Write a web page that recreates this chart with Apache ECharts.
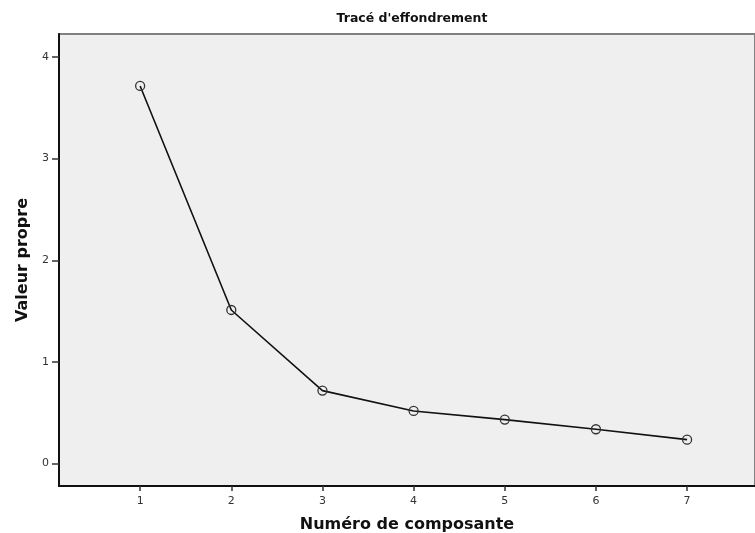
<!DOCTYPE html>
<html>
<head>
<meta charset="utf-8">
<script src="https://cdn.jsdelivr.net/npm/echarts@6/dist/echarts.min.js"></script>
<style>
  html, body { margin: 0; padding: 0; background: #ffffff; }
  #chart { width: 755px; height: 533px; }
</style>
</head>
<body>
<div id="chart"></div>
<script>
// Scree plot: eigenvalue of each component
const components = [1, 2, 3, 4, 5, 6, 7];
const eigenvalues = [3.714, 1.511, 0.718, 0.518, 0.433, 0.338, 0.236];
const yTicks = [0, 1, 2, 3, 4];

const FONT = '"DejaVu Sans", Verdana, sans-serif';

const chart = echarts.init(document.getElementById('chart'), null, { renderer: 'canvas' });

chart.setOption({
  animation: false,
  backgroundColor: '#ffffff',
  title: {
    text: "Tracé d'effondrement",
    left: 407,
    textAlign: 'center',
    top: 7,
    textStyle: { fontFamily: FONT, fontWeight: 'bold', fontSize: 12.5, color: '#111111' }
  },
  grid: {
    left: 59, top: 34, right: 0, bottom: 47,
    outerBoundsMode: 'none',
    containLabel: false,
    show: true,
    backgroundColor: '#efefef',
    borderColor: '#808080',
    borderWidth: 2
  },
  xAxis: {
    type: 'value',
    min: 0.11,
    max: 7.745,
    interval: 1,
    name: 'Numéro de composante',
    nameLocation: 'middle',
    nameGap: 31,
    nameTextStyle: { fontFamily: FONT, fontWeight: 'bold', fontSize: 16, color: '#111111' },
    axisLine: { show: true, onZero: false, lineStyle: { color: '#111111', width: 2 } },
    axisTick: { show: true, length: 5, lineStyle: { color: '#333333', width: 1.5 }, customValues: components },
    axisLabel: {
      fontFamily: FONT, fontSize: 11, color: '#333333', margin: 10,
      customValues: components,
      formatter: v => String(v)
    },
    splitLine: { show: false }
  },
  yAxis: {
    type: 'value',
    min: -0.22,
    max: 4.225,
    name: 'Valeur propre',
    nameLocation: 'middle',
    nameGap: 28,
    nameRotate: 90,
    nameTextStyle: { fontFamily: FONT, fontWeight: 'bold', fontSize: 16, color: '#111111' },
    axisLine: { show: true, onZero: false, lineStyle: { color: '#111111', width: 2 } },
    axisTick: { show: true, length: 7, lineStyle: { color: '#333333', width: 1.5 }, customValues: yTicks },
    axisLabel: {
      fontFamily: FONT, fontSize: 11, color: '#333333', margin: 10,
      customValues: yTicks,
      formatter: v => String(v)
    },
    splitLine: { show: false }
  },
  series: [{
    type: 'line',
    data: components.map((c, i) => [c, eigenvalues[i]]),
    symbol: 'circle',
    symbolSize: 9,
    showSymbol: true,
    itemStyle: { color: 'rgba(0,0,0,0)', borderColor: '#333333', borderWidth: 1.3 },
    lineStyle: { color: '#111111', width: 1.6 },
    emphasis: { disabled: true }
  }]
});
</script>
</body>
</html>
